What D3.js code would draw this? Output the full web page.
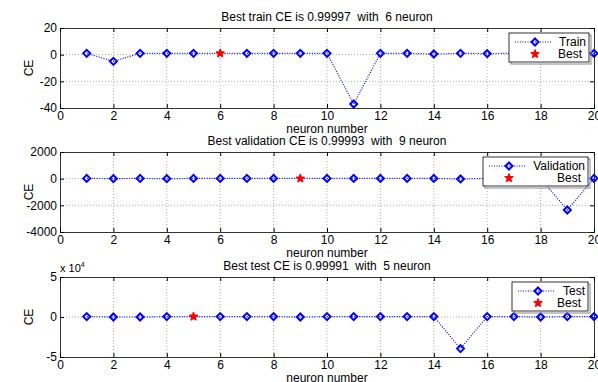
<!DOCTYPE html>
<html>
<head>
<meta charset="utf-8">
<script src="https://cdn.jsdelivr.net/npm/d3@7"></script>
<style>
  body { margin: 0; background: #fff; }
  text { font-family: "Liberation Sans", Arial, sans-serif; }
</style>
</head>
<body>
<div id="chart"></div>
<script>
// chart data
var neurons = d3.range(1, 21);
var trainCE = [1, -5, 1, 1, 1, 1, 1, 1, 1, 1, -37, 1, 1, 0.5, 1, 0.8, 1, 1, 1, 1];
var valCE = [20, 5, 20, 0, 20, 20, 20, 20, 20, 20, 20, 20, 20, 20, -20, 20, 20, 20, -2350, 20];
var testCE = [500, 0, 0, 500, 500, 500, 500, 500, 0, 500, 500, 500, 500, 500, -39500, 500, 500, 0, 500, 500];
var xTicks = [0, 2, 4, 6, 8, 10, 12, 14, 16, 18, 20];

var panels = [
  { title: "Best train CE is 0.99997  with  6 neuron", name: "Train", values: trainCE, best: 6,
    domain: [-40, 20], ticks: [-40, -20, 0, 20], top: 28, legendX: 509, legendW: 80 },
  { title: "Best validation CE is 0.99993  with  9 neuron", name: "Validation", values: valCE, best: 9,
    domain: [-4000, 2000], ticks: [-4000, -2000, 0, 2000], top: 152, legendX: 483, legendW: 105 },
  { title: "Best test CE is 0.99991  with  5 neuron", name: "Test", values: testCE, best: 5,
    domain: [-50000, 50000], ticks: [-50000, 0, 50000], top: 277, legendX: 512, legendW: 76, exp: true }
];

var svgWidth = 598;
var svgHeight = 382;
var left = 60, right = 594, plotH = 80;

var svg = d3.select("#chart")
  .append("svg")
  .attr("width", svgWidth)
  .attr("height", svgHeight);

var x = d3.scaleLinear().domain([0, 20]).range([left, right]);

function diamond(g, cx, cy) {
  g.append("path")
    .attr("d", `M${cx},${cy - 3.5}L${cx + 3.5},${cy}L${cx},${cy + 3.5}L${cx - 3.5},${cy}Z`)
    .attr("fill", "none")
    .attr("stroke", "#0000ff")
    .attr("stroke-width", 2);
}

function star(g, cx, cy) {
  g.append("path")
    .attr("d", d3.symbol().type(d3.symbolStar).size(18)())
    .attr("transform", `translate(${cx},${cy})`)
    .attr("fill", "#ff0000")
    .attr("stroke", "#ff0000")
    .attr("stroke-width", 1.5)
    .attr("stroke-linejoin", "round");
}

panels.forEach(function(p) {
  var y = d3.scaleLinear().domain(p.domain).range([p.top + plotH, p.top]);
  var g = svg.append("g");

  // grid
  g.selectAll(".vgrid").data(xTicks.slice(1, -1)).enter().append("line")
    .attr("x1", d => x(d)).attr("x2", d => x(d))
    .attr("y1", p.top).attr("y2", p.top + plotH)
    .attr("stroke", "#999").attr("stroke-width", 0.8).attr("stroke-dasharray", "1,2");
  g.selectAll(".hgrid").data(p.ticks.slice(1, -1)).enter().append("line")
    .attr("x1", left).attr("x2", right)
    .attr("y1", d => y(d)).attr("y2", d => y(d))
    .attr("stroke", "#999").attr("stroke-width", 0.8).attr("stroke-dasharray", "1,2");

  // axes
  var bottomAxis = d3.axisBottom(x).tickValues(xTicks).tickSize(-4).tickPadding(3).tickFormat(d3.format("d"));
  var leftAxis = d3.axisLeft(y).tickValues(p.ticks).tickSize(-4).tickPadding(3)
    .tickFormat(d => p.exp ? d / 10000 : d);
  var topAxis = d3.axisTop(x).tickValues(xTicks).tickSize(-4).tickFormat("");
  var rightAxis = d3.axisRight(y).tickValues(p.ticks).tickSize(-4).tickFormat("");

  [[bottomAxis, `translate(0,${p.top + plotH})`], [leftAxis, `translate(${left},0)`],
   [topAxis, `translate(0,${p.top})`], [rightAxis, `translate(${right},0)`]].forEach(function(a) {
    var ax = g.append("g").attr("transform", a[1]).call(a[0]);
    ax.select(".domain").attr("stroke", "#000").attr("stroke-width", 0.8);
    ax.selectAll(".tick line").attr("stroke", "#000");
    ax.selectAll(".tick text").attr("font-size", 12).attr("fill", "#000")
      .style("font-family", "Liberation Sans, Arial, sans-serif");
  });

  // line + markers
  var line = d3.line().x((d, i) => x(neurons[i])).y(d => y(d));
  g.append("path")
    .datum(p.values)
    .attr("d", line)
    .attr("fill", "none")
    .attr("stroke", "#0000ff")
    .attr("stroke-width", 1.2)
    .attr("stroke-dasharray", "1,1.5");
  p.values.forEach(function(v, i) {
    if (neurons[i] !== p.best) diamond(g, x(neurons[i]), y(v));
  });
  star(g, x(p.best), y(p.values[p.best - 1]));

  // title & labels
  g.append("text")
    .attr("x", (left + right) / 2).attr("y", p.top - 7)
    .attr("text-anchor", "middle").attr("font-size", 12)
    .style("white-space", "pre")
    .text(p.title);
  g.append("text")
    .attr("x", (left + right) / 2).attr("y", p.top + plotH + 25)
    .attr("text-anchor", "middle").attr("font-size", 12)
    .text("neuron number");
  g.append("text")
    .attr("transform", `translate(${left - 27},${p.top + plotH / 2}) rotate(-90)`)
    .attr("text-anchor", "middle").attr("font-size", 12)
    .text("CE");

  if (p.exp) {
    var t = g.append("text").attr("x", left).attr("y", p.top - 5).attr("font-size", 11);
    t.append("tspan").text("x 10");
    t.append("tspan").attr("dy", -5).attr("font-size", 7).text("4");
  }

  // legend
  var lx = p.legendX, ly = p.top + 5, lw = p.legendW, lh = 29;
  g.append("rect").attr("x", lx + 2).attr("y", ly + 2).attr("width", lw).attr("height", lh)
    .attr("fill", "none").attr("stroke", "#888");
  g.append("rect").attr("x", lx).attr("y", ly).attr("width", lw).attr("height", lh)
    .attr("fill", "#fff").attr("stroke", "#000").attr("stroke-width", 0.8);
  g.append("line")
    .attr("x1", lx + 6).attr("x2", lx + 43).attr("y1", ly + 9).attr("y2", ly + 9)
    .attr("stroke", "#0000ff").attr("stroke-width", 1.2).attr("stroke-dasharray", "1,1.5");
  diamond(g, lx + 26, ly + 9);
  star(g, lx + 26, ly + 21);
  g.append("text").attr("x", lx + lw - 3).attr("y", ly + 13)
    .attr("text-anchor", "end").attr("font-size", 12).text(p.name);
  g.append("text").attr("x", lx + lw - 7).attr("y", ly + 25)
    .attr("text-anchor", "end").attr("font-size", 12).text("Best");
});
</script>
</body>
</html>
